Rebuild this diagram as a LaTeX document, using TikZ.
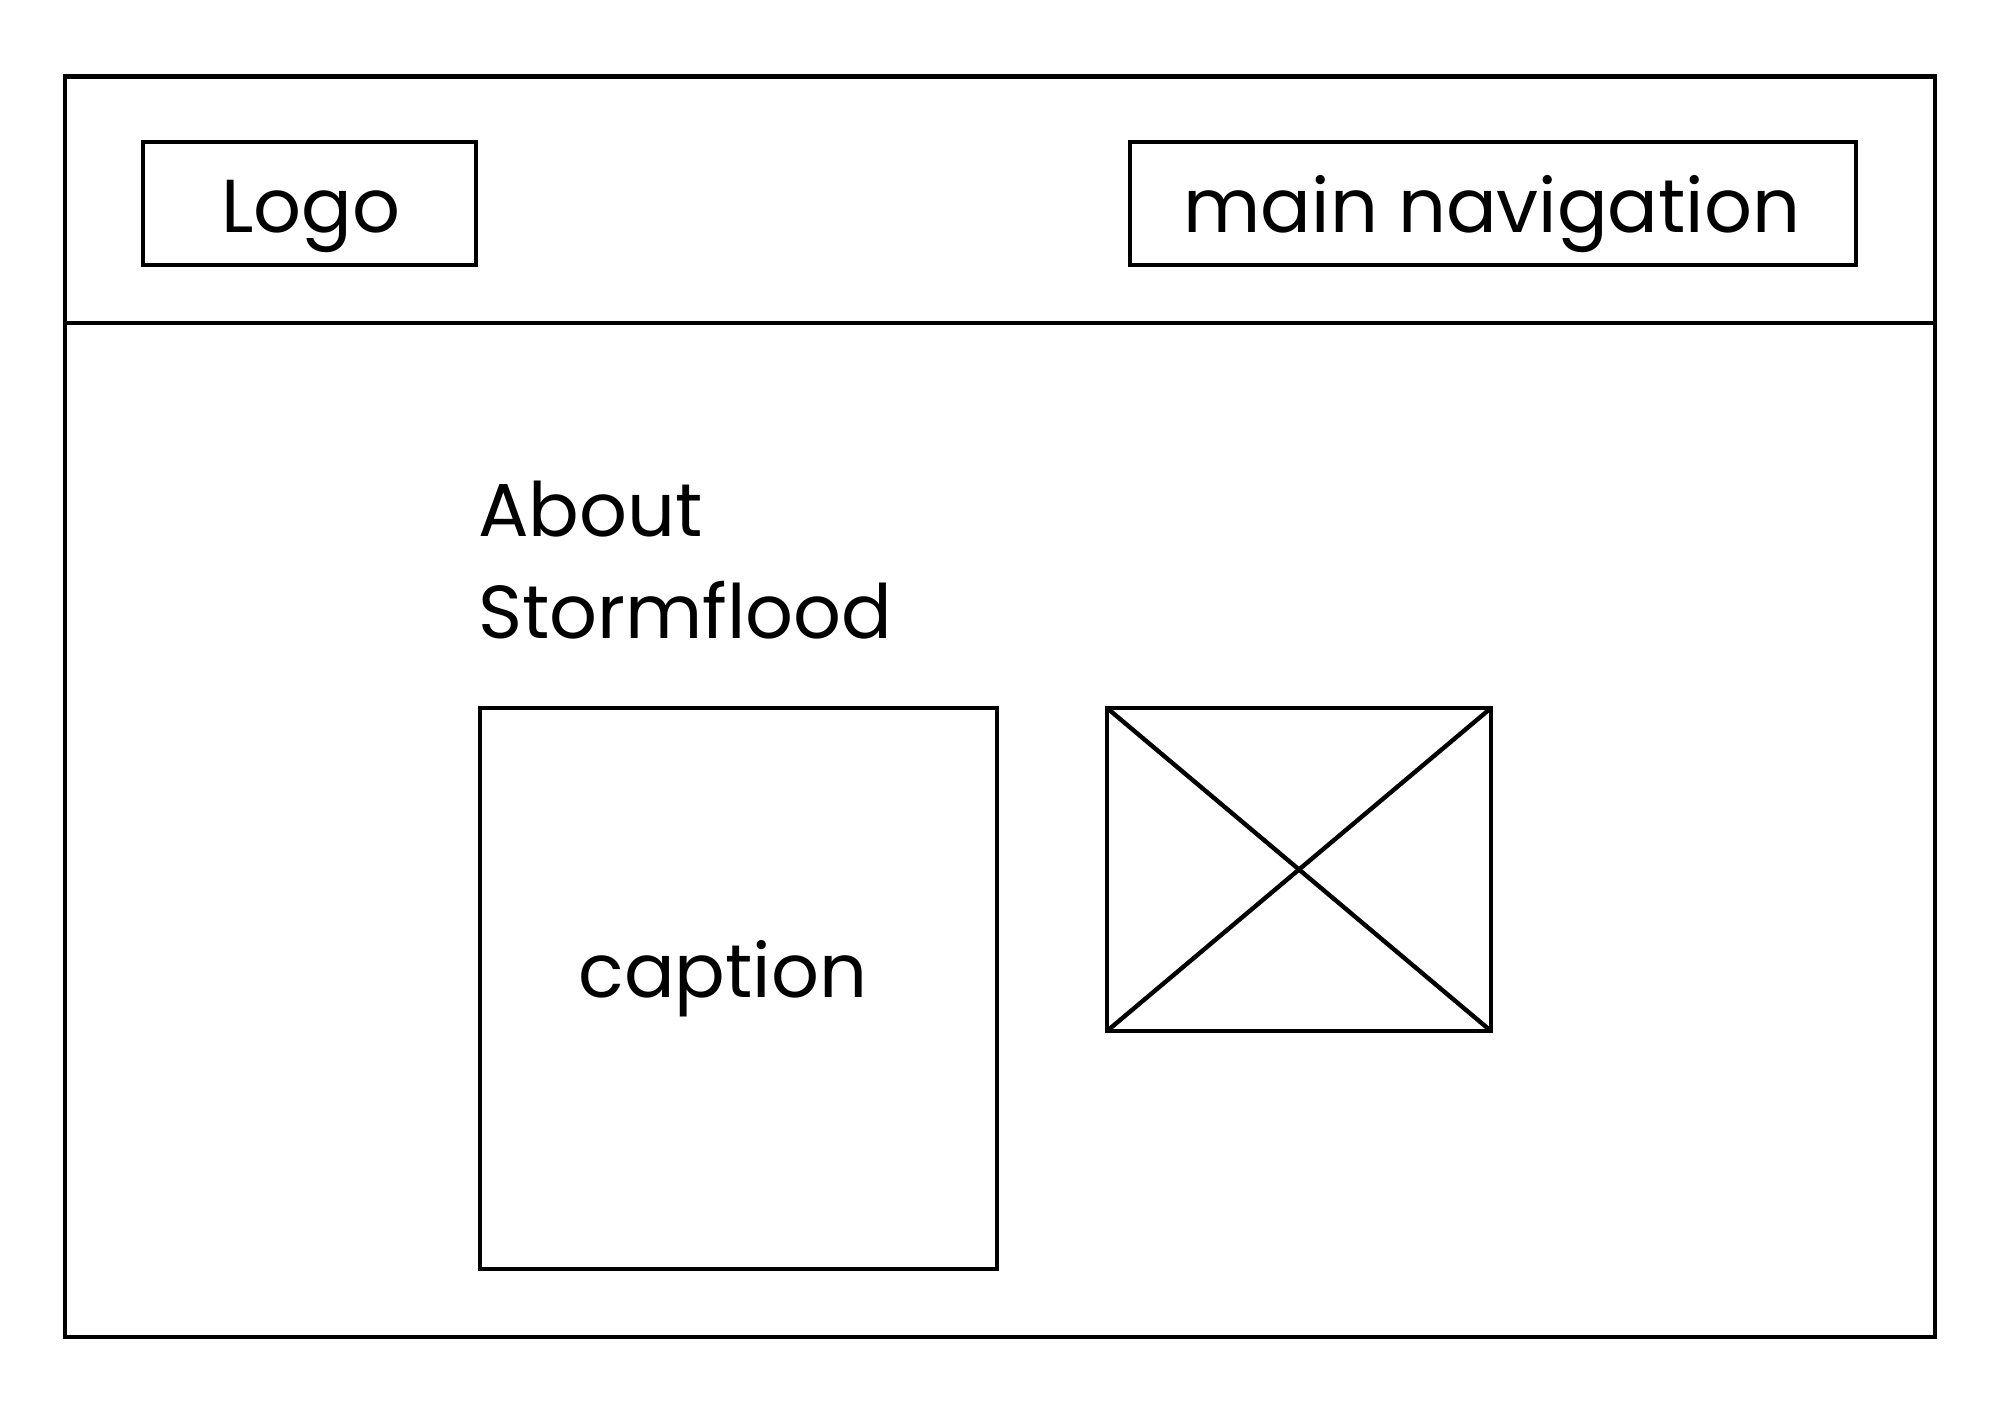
\documentclass[tikz,border=0pt]{standalone}
\usepackage{fontspec}
\setmainfont{Poppins}
\begin{document}
\begin{tikzpicture}[x=0.5pt,y=-0.5pt,
  frame/.style={draw=black,line width=2.2pt,fill=none,inner sep=0pt,outer sep=0pt},
  rule/.style={line width=2.2pt,draw=black},
  label/.style={inner sep=0pt,outer sep=0pt,font=\fontsize{37.5}{51}\selectfont,text=black}]
\useasboundingbox[fill=white] (0,0) rectangle (2000,1414);
% outer page
\node[frame,minimum width=935pt,minimum height=630.25pt] (page) at (1000,706.75) {};
\coordinate (hl) at (65,323);
\coordinate (hr) at (1935,323);
\draw[rule] (hl) -- (hr);
% header boxes
\node[frame,minimum width=166.5pt,minimum height=61.5pt] (logo) at (309.5,203.5) {};
\node[label,anchor=base] (logotext) at (311,232) {Logo};
\node[frame,minimum width=363pt,minimum height=61.5pt] (nav) at (1493,203.5) {};
\node[label,anchor=base] (navtext) at (1492,232) {main navigation};
% title
\node[label,anchor=base west] (about) at (478,536) {About};
\node[label,anchor=base west] (storm) at (478,638) {Stormflood};
% caption box
\node[frame,minimum width=258.5pt,minimum height=280.5pt] (cap) at (738.5,988.5) {};
\node[label,anchor=base] (captext) at (723,997) {caption};
% image placeholder
\node[frame,minimum width=192pt,minimum height=161.5pt] (img) at (1299,869.5) {};
\draw[rule] (img.north west) -- (img.south east);
\draw[rule] (img.north east) -- (img.south west);
\end{tikzpicture}
\end{document}
